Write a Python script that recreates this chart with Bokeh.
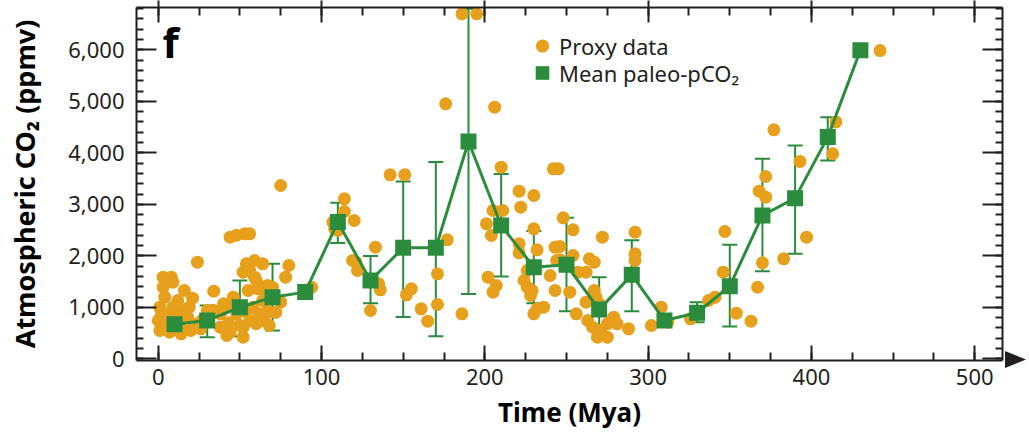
from bokeh.plotting import figure
from bokeh.layouts import row
from bokeh.models import (ColumnDataSource, Range1d, LinearAxis, FixedTicker, NumeralTickFormatter,
                          CustomJSTickFormatter, Whisker, TeeHead, Legend, LegendItem, Label, Div)
from bokeh.embed import file_html
from bokeh.resources import INLINE

# ---------------- data ----------------
proxy_age = [0, 1, 1, 2, 3, 3, 3, 4, 4, 5, 6, 7, 8, 9, 9, 9, 10, 12, 12, 13, 14, 15, 16, 16, 17, 18, 19, 20, 21, 22,
             24, 24, 26, 27, 30, 34, 34,
             38, 38, 40, 42, 42, 43, 44, 44, 46, 48, 48, 50, 52, 52, 52, 53, 54, 54, 55, 56, 56, 56, 58, 59, 59, 60,
             60, 61, 62, 62, 64, 64, 64, 65, 66, 67, 67, 67, 68, 70, 72, 75, 75, 78, 80,
             90, 94, 107, 108, 110, 114, 114, 120, 119, 121, 122, 130, 133, 135, 136,
             142, 151, 152, 155, 161, 165, 171, 171, 176, 177, 186, 186, 195,
             201, 202, 204, 205, 205, 206, 207, 211, 210, 221, 222, 221, 221, 224, 226, 226, 228, 229, 230, 230, 230,
             232, 232, 236, 240, 242, 245, 243, 244, 243, 246, 246, 248, 252, 254, 254, 256, 257, 262, 262, 263, 264,
             266, 267, 267, 268, 269, 270, 271, 272, 275, 275, 279, 281, 288,
             292, 292, 292, 302, 308, 312,
             326, 337, 341, 346, 347, 354, 363, 367, 368, 370, 372, 372, 377, 383, 393, 397, 413, 415, 442]
proxy_co2 = [744, 1002, 550, 900, 1585, 1390, 680, 1196, 850, 600, 720, 517, 1585, 1488, 1002, 650, 800, 1132, 744, 900,
             485, 560, 1326, 780, 950, 808, 1002, 550, 1177, 650, 680, 1876, 583, 750, 938, 1313, 938,
             874, 614, 1068, 1002, 452, 700, 517, 2362, 1196, 2400, 874, 650, 1682, 614, 420, 2427, 1845, 905, 1326,
             1715, 744, 2427, 1000, 1585, 1909, 1520, 680, 1359, 1423, 874, 744, 1845, 1132, 1390, 874, 938, 1262,
             1423, 647, 1390, 900, 3365, 1100, 1585, 1812,
             1293, 1390, 2653, 2524, 2492, 3107, 2860, 2686, 1909, 1876, 1715, 938, 2167, 1456, 1340,
             3573, 3573, 1243, 1359, 971, 730, 1651, 1054, 4952, 2311, 874, 6700, 6700,
             2622, 1585, 2394, 1293, 2880, 4886, 1423, 2880, 3721, 3255, 2944, 2233, 2058, 1520, 1715, 1390, 1229,
             1326, 3171, 2524, 874, 971, 2117, 1002, 1618, 3690, 3690, 2168, 1909, 1326, 1923, 2181, 2738, 1293,
             2505, 2006, 874, 1682, 1682, 1100, 744, 1942, 614, 1876, 1326, 1196, 420, 1068, 550, 2362, 680, 420,
             808, 680, 583,
             2459, 2039, 1909, 647, 1002, 711,
             777, 1132, 1196, 1682, 2472, 886, 730, 1390, 3255, 1864, 3540, 3138, 4447, 1942, 3832, 2362, 3981,
             4600, 5986]

mean_age = [10, 30, 50, 70, 90, 110, 130, 150, 170, 190, 210, 230, 250, 270, 290, 310, 330, 350, 370, 390, 410, 430]
mean_co2 = [670, 745, 1000, 1195, 1295, 2655, 1520, 2155, 2155, 4220, 2590, 1780, 1825, 955, 1630, 745, 895, 1410,
            2785, 3120, 4305, 5990]
err_low = [490, 420, 440, 550, None, 2250, 1080, 810, 440, 1260, 1600, 1080, 925, 375, 925, None, 710, 625, 1700,
           2040, 3850, None]
err_high = [840, 1035, 1520, 1845, None, 3030, 1995, 3445, 3820, 6800, 3590, 2480, 2740, 1585, 2300, None, 1100,
            2215, 3885, 4140, 4690, None]

x_major = [0, 100, 200, 300, 400, 500]
x_minor = [25 * i for i in range(21)]
y_major = [0, 1000, 2000, 3000, 4000, 5000, 6000]
y_minor = [200 * i for i in range(35)]

ORANGE = "#E6A01B"
GREEN = "#2A8C3C"
AX = "#231F20"
FONT = "Noto Sans"

# ---------------- main figure ----------------
p = figure(width=1005, height=440, output_backend="svg", toolbar_location=None,
           x_range=Range1d(-13.3, 517), y_range=Range1d(-33, 6822),
           x_axis_location=None, y_axis_location=None,
           min_border_left=136, min_border_right=3, min_border_top=7, min_border_bottom=80)
p.grid.visible = False
p.outline_line_color = None
p.background_fill_color = "white"


def style_axis(ax, tin, tout, mtin, labels=True):
    ax.axis_line_color = AX
    ax.axis_line_width = 2
    ax.major_tick_line_color = AX
    ax.major_tick_line_width = 2
    ax.minor_tick_line_color = AX
    ax.minor_tick_line_width = 2
    ax.major_tick_in = tin
    ax.major_tick_out = tout
    ax.minor_tick_in = mtin
    ax.minor_tick_out = 0
    if labels:
        ax.major_label_text_font = FONT
        ax.major_label_text_font_size = "22px"
        ax.major_label_text_color = AX
    else:
        ax.formatter = CustomJSTickFormatter(code="return ''")
        ax.major_label_text_color = None
        ax.major_label_text_font_size = "1px"
        ax.major_label_standoff = 0


xb = LinearAxis(ticker=FixedTicker(ticks=x_major, minor_ticks=x_minor), axis_label="Time (Mya)")
style_axis(xb, 15, 0, 8)
xb.major_label_standoff = 8
xb.axis_label_standoff = 6
xb.axis_label_text_font = FONT
xb.axis_label_text_font_style = "bold"
xb.axis_label_text_font_size = "26px"
xb.axis_label_text_color = "black"
p.add_layout(xb, "below")

xt = LinearAxis(ticker=FixedTicker(ticks=x_major, minor_ticks=x_minor))
style_axis(xt, 15, 7, 8, labels=False)
p.add_layout(xt, "above")

yl = LinearAxis(ticker=FixedTicker(ticks=y_major, minor_ticks=y_minor),
                formatter=NumeralTickFormatter(format="0,0"),
                axis_label="Atmospheric CO₂ (ppmv)")
style_axis(yl, 20, 0, 7)
yl.major_label_standoff = 12
yl.axis_label_standoff = 22
yl.axis_label_text_font = FONT
yl.axis_label_text_font_style = "bold"
yl.axis_label_text_font_size = "27px"
yl.axis_label_text_color = "black"
p.add_layout(yl, "left")

yr = LinearAxis(ticker=FixedTicker(ticks=y_major, minor_ticks=y_minor))
style_axis(yr, 20, 0, 7, labels=False)
p.add_layout(yr, "right")

# ---------------- glyphs ----------------
psrc = ColumnDataSource(data=dict(x=proxy_age, y=proxy_co2))
pts = p.scatter("x", "y", source=psrc, marker="circle", size=13, fill_color=ORANGE, line_color=None)

wx = [a for a, lo in zip(mean_age, err_low) if lo is not None]
wlo = [lo for lo in err_low if lo is not None]
whi = [hi for hi in err_high if hi is not None]
wsrc = ColumnDataSource(data=dict(base=wx, lower=wlo, upper=whi))
wh = Whisker(source=wsrc, base="base", lower="lower", upper="upper", line_color=GREEN, line_width=2,
             upper_head=TeeHead(size=15, line_color=GREEN, line_width=2),
             lower_head=TeeHead(size=15, line_color=GREEN, line_width=2))
p.add_layout(wh)

msrc = ColumnDataSource(data=dict(x=mean_age, y=mean_co2))
p.line("x", "y", source=msrc, line_color=GREEN, line_width=3)
sq = p.scatter("x", "y", source=msrc, marker="square", size=16, fill_color=GREEN, line_color=None)

# ---------------- legends (one per entry) ----------------
common = dict(glyph_width=34, label_standoff=0, padding=0, margin=0, border_line_color=None,
              background_fill_alpha=0, label_text_font=FONT, label_text_font_size="22px", label_text_color=AX)
leg1 = Legend(items=[LegendItem(label="Proxy data", renderers=[pts])],
              location=(389, 298), glyph_height=33, **common)
leg2 = Legend(items=[LegendItem(label="Mean paleo-pCO₂", renderers=[sq])],
              location=(389, 269), glyph_height=37, **common)
p.add_layout(leg1)
p.add_layout(leg2)

# ---------------- panel letter ----------------
p.add_layout(Label(x=26, y=319, x_units="screen", y_units="screen", text="f", text_font=FONT,
                   text_font_style="bold", text_font_size="42px", text_color="black",
                   text_baseline="alphabetic"))

# ---------------- axis arrow head (decoration right of the frame) ----------------
arrow_div = Div(text='<svg width="24" height="440" style="display:block">'
                     '<polygon points="0,351 21,359.5 0,368" fill="#231F20"/></svg>',
                width=24, height=440, margin=0)

layout = row(p, arrow_div, spacing=0)
open("out.html", "w").write(file_html(layout, INLINE))
